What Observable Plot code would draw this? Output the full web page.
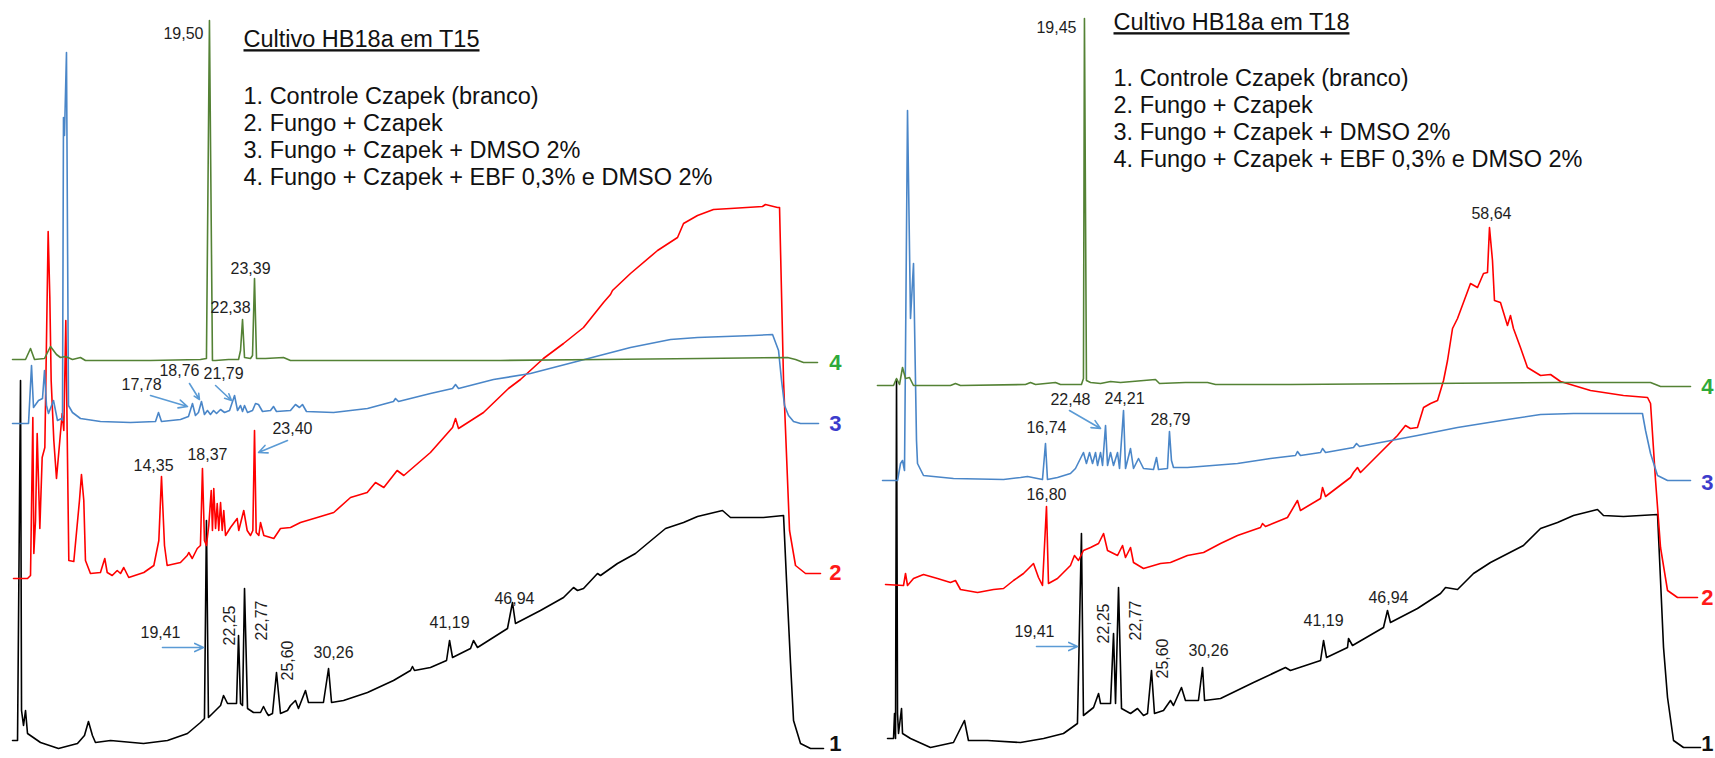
<!DOCTYPE html>
<html><head><meta charset="utf-8">
<script src="https://cdn.jsdelivr.net/npm/d3@7"></script>
<script src="https://cdn.jsdelivr.net/npm/@observablehq/plot@0.6"></script>
<style>
body{margin:0;background:#fff;}
#wrap{display:flex;width:1715px;height:758px;overflow:hidden;}
</style></head><body><div id="wrap"></div>
<script>
// Retention time (min) vs. stacked detector response (arbitrary units)
const titles = ["Cultivo HB18a em T15", "Cultivo HB18a em T18"];
const legendLines = ["1. Controle Czapek (branco)", "2. Fungo + Czapek", "3. Fungo + Czapek + DMSO 2%", "4. Fungo + Czapek + EBF 0,3% e DMSO 2%"];
const seriesNames = ["1", "2", "3", "4"];
const traceColors = ["#000000", "#ff0000", "#4a86c8", "#548235"];
const nameColors = ["#111111", "#ff1a1a", "#3b3bcc", "#2eaa3a"];

// ---- T15 ----
const t15_1 = [[1.94,10],[2.39,10],[2.66,370],[2.75,40],[2.93,25],[3.11,40],[3.29,17],[4.46,8],[6.08,2],[7.79,7],[8.42,15],[8.78,29],[9.14,15],[9.41,8],[10.77,10],[13.74,7],[15.9,10],[17.7,17],[18.87,28],[19.23,32],[19.41,230],[19.59,33],[20.68,45],[20.95,55],[21.31,47],[22.12,47],[22.3,115],[22.48,47],[22.66,45],[22.84,162],[23.11,42],[23.65,38],[24.28,38],[24.55,44],[24.82,38],[25.0,35],[25.36,37],[25.72,78],[26.08,37],[26.71,40],[26.98,45],[27.43,50],[27.7,42],[28.33,60],[28.6,48],[29.95,48],[30.41,82],[30.68,48],[31.76,50],[33.92,58],[36.26,70],[37.79,80],[37.97,84],[38.15,80],[39.59,83],[41.04,90],[41.31,110],[41.58,93],[43.2,102],[43.47,110],[43.83,103],[46.53,122],[46.98,148],[47.25,127],[49.5,140],[51.58,153],[52.48,163],[52.84,160],[53.38,162],[54.64,177],[54.91,175],[56.44,187],[58.06,197],[59.14,207],[60.77,222],[62.39,228],[63.65,234],[65.9,240],[66.62,233],[69.59,233],[71.4,235],[71.67,170],[72.03,87],[72.3,30],[72.93,7],[73.83,2],[75.0,2]];
const t15_2 = [[2.03,172],[3.29,172],[3.56,175],[3.77,333],[3.86,197],[4.01,230],[4.16,317],[4.4,222],[4.61,293],[4.85,303],[5.15,519],[5.3,453],[5.42,370],[5.66,310],[5.9,272],[6.2,310],[6.41,337],[6.56,320],[6.74,430],[6.86,320],[7.01,190],[7.46,189],[7.97,250],[8.15,276],[8.36,250],[8.51,190],[8.96,177],[9.86,178],[10.25,192],[10.47,178],[10.92,175],[11.37,180],[11.67,177],[11.96,183],[12.41,173],[13.77,178],[14.67,185],[15.12,210],[15.36,274],[15.63,205],[15.87,185],[17.07,188],[17.68,195],[17.82,198],[18.13,192],[18.58,202],[18.87,205],[19.05,282],[19.23,210],[19.41,205],[19.62,225],[19.84,260],[19.95,220],[20.07,262],[20.23,222],[20.38,247],[20.52,220],[20.68,248],[20.83,220],[20.97,240],[21.13,215],[21.58,223],[22.18,232],[22.32,220],[22.77,240],[23.08,220],[23.38,215],[23.59,220],[23.74,320],[23.89,218],[24.13,215],[24.28,228],[24.58,215],[25.48,212],[26.08,222],[26.98,223],[27.88,228],[29.39,233],[30.88,238],[32.39,253],[33.89,258],[34.64,268],[35.39,263],[36.59,280],[37.19,275],[39.59,298],[41.58,323],[41.85,332],[42.12,322],[44.37,338],[46.62,362],[47.7,371],[49.77,392],[51.58,407],[53.38,423],[55.18,448],[55.81,456],[55.99,460],[57.61,477],[60.05,500],[61.85,513],[62.39,527],[63.65,535],[65.09,541],[66.62,542],[69.5,544],[69.77,546],[70.86,543],[71.04,543],[71.4,370],[71.94,220],[72.48,185],[73.38,177],[74.73,177]];
const t15_3 = [[1.94,327],[3.38,327],[3.65,385],[3.83,343],[4.28,350],[4.64,352],[4.82,380],[5.0,345],[5.18,337],[5.63,350],[5.99,330],[6.35,332],[6.44,330],[6.53,633],[6.62,615],[6.8,698],[6.98,345],[7.34,338],[8.06,332],[9.86,329],[12.57,328],[14.82,329],[15.09,338],[15.36,329],[17.07,331],[17.79,334],[18.15,347],[18.42,335],[18.69,338],[18.96,349],[19.23,336],[19.5,340],[19.77,336],[20.05,340],[20.32,337],[20.68,341],[21.04,338],[21.49,340],[21.94,355],[22.21,340],[22.48,345],[22.66,339],[22.84,345],[23.11,338],[23.56,340],[23.83,347],[24.1,346],[24.46,339],[25.18,340],[25.45,344],[25.72,339],[26.98,340],[27.43,346],[27.79,343],[28.06,346],[28.42,339],[30.86,338],[33.92,342],[36.26,349],[36.44,352],[36.71,349],[39.59,357],[41.58,362],[41.85,366],[42.12,362],[45.27,371],[48.6,377],[53.11,390],[57.61,403],[61.22,411],[63.65,413],[68.69,415],[70.41,416],[70.95,400],[71.22,370],[71.49,345],[71.85,335],[72.3,329],[72.93,327],[74.55,327]];
const t15_4 = [[1.94,391],[3.11,391],[3.56,402],[3.92,391],[4.82,392],[5.36,404],[5.9,396],[6.26,393],[6.71,394],[7.34,391],[8.06,393],[8.51,390],[14.37,390],[18.87,391],[19.41,392],[19.68,730],[19.95,390],[20.23,390],[21.4,391],[22.3,391],[22.48,400],[22.66,431],[22.84,393],[23.38,392],[23.56,395],[23.74,472],[23.92,392],[24.73,392],[26.35,393],[26.98,390],[29.68,390],[36.89,390],[45.9,390],[54.9,391],[63.9,392],[71.76,393],[72.48,391],[73.2,388],[74.46,388]];

const t15_peakLabels = [
  {label:"19,50", t:17.34, v:717}, {label:"22,38", t:21.58, v:443}, {label:"23,39", t:23.38, v:482},
  {label:"18,76", t:16.98, v:380}, {label:"21,79", t:20.95, v:377}, {label:"17,78", t:13.56, v:366},
  {label:"23,40", t:27.16, v:322}, {label:"14,35", t:14.64, v:285}, {label:"18,37", t:19.5, v:296},
  {label:"19,41", t:15.27, v:118}, {label:"30,26", t:30.86, v:98}, {label:"41,19", t:41.31, v:128},
  {label:"46,94", t:47.16, v:152}
];
const t15_rotLabels = [
  {label:"22,25", t:21.49, v:125}, {label:"22,77", t:24.37, v:130}, {label:"25,60", t:26.71, v:90}
];
const t15_arrows = [
  {t1:14.37, v1:355, t2:17.7, v2:344}, {t1:17.88, v1:367, t2:18.78, v2:351},
  {t1:20.23, v1:365, t2:21.67, v2:350}, {t1:26.71, v1:310, t2:24.1, v2:298},
  {t1:15.45, v1:103, t2:19.14, v2:103}
];
const t15_endT = 76.08;
const t15_endV = [7, 178, 327, 388];

// ---- T18 ----
const t18_1 = [[1.94,12],[2.48,12],[2.57,37],[2.66,12],[2.75,371],[2.84,37],[2.93,17],[3.2,42],[3.29,17],[4.01,12],[5.81,3],[7.88,8],[8.51,22],[8.87,30],[9.23,10],[10.95,10],[13.92,8],[16.0,12],[17.79,17],[19.05,27],[19.41,217],[19.59,35],[20.5,43],[20.95,57],[21.13,47],[22.03,47],[22.3,117],[22.48,47],[22.75,163],[23.02,42],[23.83,37],[24.46,42],[25.0,35],[25.36,37],[25.72,80],[25.99,37],[26.8,40],[27.43,50],[27.7,45],[28.42,63],[28.78,50],[29.95,50],[30.32,83],[30.5,50],[31.94,52],[34.91,68],[37.79,83],[38.24,80],[40.95,90],[41.22,110],[41.49,93],[43.38,103],[43.47,112],[43.83,105],[46.62,123],[46.98,140],[47.25,128],[49.68,142],[51.76,157],[52.21,163],[53.29,161],[54.73,177],[56.26,188],[59.23,205],[60.77,222],[62.3,228],[63.74,235],[65.9,241],[66.44,235],[68.24,234],[71.31,236],[71.58,170],[71.85,103],[72.21,53],[72.75,10],[73.65,3],[75.18,3]];
const t18_2 = [[1.76,166],[3.38,165],[3.56,177],[3.74,165],[4.28,172],[5.18,176],[6.44,172],[7.61,168],[8.06,170],[8.51,161],[10.05,158],[11.49,161],[12.39,162],[13.29,170],[14.19,177],[15.09,187],[15.54,173],[15.9,165],[16.26,244],[16.44,167],[17.25,172],[17.79,178],[18.42,185],[18.78,195],[19.14,190],[19.59,200],[20.23,203],[20.95,207],[21.4,217],[21.76,200],[22.66,195],[23.11,205],[23.38,193],[23.83,203],[24.1,188],[25.0,182],[26.53,187],[27.43,188],[28.96,195],[30.41,198],[31.94,207],[33.47,215],[35.54,223],[35.72,227],[35.99,224],[37.97,233],[38.87,250],[39.14,240],[40.95,252],[41.13,263],[41.4,254],[43.65,273],[43.92,278],[44.28,283],[44.55,278],[46.35,298],[46.8,303],[47.25,308],[47.88,315],[48.6,325],[49.05,322],[49.68,323],[50.23,343],[50.86,347],[51.49,350],[52.03,370],[52.39,390],[52.84,422],[53.29,432],[54.46,467],[55.09,463],[55.63,477],[55.99,478],[56.17,523],[56.44,490],[56.62,450],[57.16,448],[57.79,425],[58.06,435],[58.33,422],[58.96,403],[59.59,383],[60.77,375],[61.67,376],[62.57,369],[65.27,360],[68.24,355],[70.41,353],[70.68,347],[71.13,270],[71.58,203],[72.21,160],[73.11,153],[74.91,153]];
const t18_3 = [[1.49,270],[2.84,270],[3.11,287],[3.29,290],[3.47,280],[3.74,640],[4.01,432],[4.28,487],[4.55,310],[4.64,287],[5.18,275],[7.88,272],[12.39,271],[13.92,273],[14.55,274],[15.9,271],[16.17,307],[16.35,271],[17.25,273],[18.42,277],[18.87,282],[19.32,292],[19.59,298],[19.86,287],[20.14,298],[20.41,287],[20.68,298],[20.86,285],[21.13,298],[21.31,285],[21.58,325],[21.76,285],[22.03,298],[22.3,285],[22.66,298],[22.84,282],[23.2,340],[23.38,282],[23.83,302],[24.1,282],[24.55,292],[25.0,282],[25.9,281],[26.17,293],[26.35,281],[27.16,282],[27.34,319],[27.52,290],[27.7,283],[28.96,283],[33.47,287],[36.44,292],[38.69,295],[38.87,299],[39.14,295],[40.95,298],[41.13,302],[41.4,298],[43.92,303],[44.19,307],[44.46,304],[46.35,308],[49.68,315],[53.29,323],[57.79,331],[60.77,336],[63.74,337],[69.95,337],[70.23,320],[70.68,297],[71.31,275],[72.21,270],[74.28,270]];
const t18_4 = [[1.03,365],[2.48,365],[2.75,372],[3.02,366],[3.29,383],[3.56,372],[3.92,373],[4.28,365],[7.61,365],[8.06,367],[8.51,365],[14.37,366],[14.82,368],[15.27,366],[17.07,368],[17.52,366],[19.41,366],[19.59,372],[19.68,732],[19.86,370],[20.23,368],[21.13,367],[22.03,369],[22.93,368],[26.08,371],[26.44,367],[28.78,368],[30.77,368],[31.49,366],[38.24,366],[50.41,367],[62.3,368],[70.68,368],[71.58,364],[74.28,364]];

const t18_peakLabels = [
  {label:"19,45", t:17.16, v:723}, {label:"16,74", t:16.26, v:323}, {label:"22,48", t:18.42, v:351},
  {label:"24,21", t:23.29, v:352}, {label:"28,79", t:27.43, v:331}, {label:"16,80", t:16.26, v:256},
  {label:"19,41", t:15.18, v:119}, {label:"30,26", t:30.86, v:100}, {label:"41,19", t:41.22, v:130},
  {label:"46,94", t:47.07, v:153}, {label:"58,64", t:56.35, v:537}
];
const t18_rotLabels = [
  {label:"22,25", t:21.4, v:127}, {label:"22,77", t:24.28, v:130}, {label:"25,60", t:26.71, v:92}
];
const t18_arrows = [
  {t1:18.33, v1:340, t2:21.13, v2:322}, {t1:15.36, v1:104, t2:19.05, v2:104}
];
const t18_endT = 75.81;
const t18_endV = [7, 153, 268, 364];

const toPts = (arr, s) => arr.map(([t, v]) => ({t, v, s}));

function panel({width, traces, peakLabels, rotLabels, arrows, endT, endV, title, textX, titleDy, listDy}) {
  const ends = seriesNames.map((n, i) => ({label: n, t: endT, v: endV[i], c: nameColors[i]}));
  const fam = "'Liberation Sans', Arial, sans-serif";
  const svg = Plot.plot({
    width, height: 758, margin: 0,
    style: {fontFamily: fam, background: "#fff", overflow: "visible"},
    x: {domain: [0, 75], range: [-9.5, 823], axis: null},
    y: {domain: [0, 750], range: [750, 0], axis: null},
    marks: [
      ...traces.map((tr, i) => Plot.line(toPts(tr, seriesNames[i]), {x: "t", y: "v", stroke: traceColors[i], strokeWidth: 1.6, curve: "linear"})),
      Plot.arrow(arrows, {x1: "t1", y1: "v1", x2: "t2", y2: "v2", stroke: "#5b9bd5", strokeWidth: 1.6, headLength: 9, headAngle: 50}),
      Plot.text(peakLabels, {x: "t", y: "v", text: "label", fontSize: 16, fill: "#1e1e1e"}),
      Plot.text(rotLabels, {x: "t", y: "v", text: "label", fontSize: 16, fill: "#1e1e1e", rotate: -90}),
      Plot.text(ends, {x: "t", y: "v", text: "label", fontSize: 22, fontWeight: "bold", fill: d => d.c}),
      Plot.text([title], {frameAnchor: "top-left", dx: textX, dy: titleDy, text: d => d, fontSize: 23.5, textAnchor: "start", lineAnchor: "top", fill: "#111"}),
      Plot.text([legendLines.join("\n")], {frameAnchor: "top-left", dx: textX, dy: listDy, text: d => d, fontSize: 23.5, lineHeight: 1.15, textAnchor: "start", lineAnchor: "top", fill: "#111"})
    ]
  });
  d3.select(svg).selectAll("text").filter(function() { return this.textContent.startsWith("Cultivo"); })
    .style("text-decoration", "underline");
  return svg;
}

const wrap = document.getElementById("wrap");
wrap.append(panel({width: 875, traces: [t15_1, t15_2, t15_3, t15_4], peakLabels: t15_peakLabels, rotLabels: t15_rotLabels, arrows: t15_arrows, endT: t15_endT, endV: t15_endV, title: titles[0], textX: 243, titleDy: 30, listDy: 84}));
wrap.append(panel({width: 840, traces: [t18_1, t18_2, t18_3, t18_4], peakLabels: t18_peakLabels, rotLabels: t18_rotLabels, arrows: t18_arrows, endT: t18_endT, endV: t18_endV, title: titles[1], textX: 238, titleDy: 13, listDy: 66}));
</script></body></html>
